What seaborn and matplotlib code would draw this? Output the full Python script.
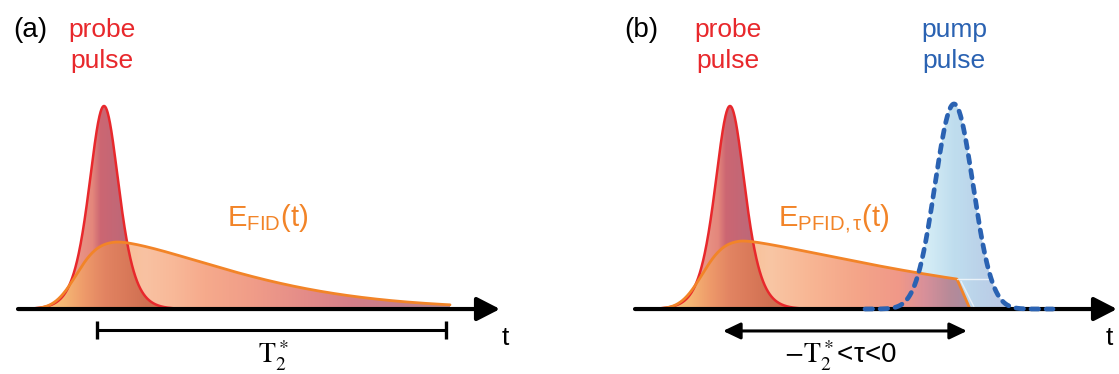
import numpy as np
import matplotlib
matplotlib.use("Agg")
import matplotlib.pyplot as plt
import seaborn as sns
from math import erf
from matplotlib.colors import LinearSegmentedColormap
from matplotlib.patches import Polygon

sns.set_theme(style="white")
plt.rcParams['font.family'] = ['Liberation Sans', 'DejaVu Sans']
plt.rcParams['mathtext.fontset'] = 'stix'

# ---------------- data (schematic pulse parameters, time in arb. units) -------------
panel_labels = ['(a)', '(b)']
panel_label_x = [-9.1, -10.6]
probe_center = [0.0, 0.0]
probe_width = [2.0, 2.0]
probe_amp = [1.0, 1.0]
probe_span = [(-6.9, 6.9), (-6.9, 6.9)]

fid_amp = [0.33, 0.335]
fid_rise_mu = [-2.8, -2.8]
fid_rise_s = [1.7, 1.7]
fid_peak = [1.0, 1.0]
fid_T = [17.0, 25.0]
fid_beta = [1.5, 1.3]
fid_span = [(-7.0, 34.6), (-7.0, 24.0)]
fid_cut = [None, 22.7]

pump_center = 22.4
pump_sigma = 1.9
pump_amp = 1.01
pump_span = (13.5, 32.3)

axis_span = [(-8.6, 39.6), (-9.5, 38.7)]
t_label_x = [39.8, 37.6]
bar_span = (-0.7, 34.2)
delay_span = (-0.7, 23.7)

fid_labels = [r'$\mathregular{E_{FID}(t)}$', r'$\mathregular{E_{PFID,τ}(t)}$']
fid_label_x = [12.27, 4.83]
bottom_labels = [r'$\mathrm{T}_2^*$', r'$-\mathrm{T}_2^*$<τ<0']
bottom_label_x = [16.9, 11.0]
panel_xlim = [(-10.4, 45.55), (-17.05, 38.9)]
ylim = (-0.320, 1.522)

RED = '#e8282c'
ORANGE = '#f28428'
BLUE = '#2a62b2'

probe_stops = [(-6.9, '#f8bca4'), (-1.2, '#e4877c'), (-0.4, '#cc6672'),
               (2.0, '#be6878'), (6.9, '#a07888')]
fid_stops = [
    [(-7.0, '#fbe08c'), (-3.0, '#f6b880'), (4.0, '#f9c2a2'), (7.0, '#f8b898'),
     (10.0, '#f6aa8c'), (15.0, '#f09c88'), (20.0, '#e48c88'), (25.0, '#d47e88'),
     (30.0, '#c4808c'), (34.6, '#b48a94')],
    [(-7.0, '#fbe08c'), (-3.0, '#f6b880'), (4.0, '#f9c6a4'), (8.0, '#f8b694'),
     (13.0, '#f4a488'), (17.0, '#f09888'), (19.5, '#d8909a'), (22.0, '#b88a98'),
     (24.0, '#a88ca0')]]
overlap_stops = [(-7.0, '#f9d47e'), (-4.0, '#f5b674'), (-2.0, '#ee9a6a'),
                 (0.0, '#e28462'), (2.0, '#da7a5a'), (4.0, '#d07052'), (6.9, '#c86a4c')]
pump_stops = [(16.0, '#e4f5fb'), (20.0, '#d0eaf5'), (22.4, '#bcdcee'),
              (25.0, '#b8d0e8'), (28.5, '#b8c4e2')]


def sech2(t, c, w, a):
    return a / np.cosh((t - c) / w) ** 2


def fid_curve(t, i):
    rise = np.array([0.5 * (1 + erf((x - fid_rise_mu[i]) / (np.sqrt(2) * fid_rise_s[i]))) for x in t])
    dt = np.clip(t - fid_peak[i], 0, None)
    dec = np.exp(-(dt / fid_T[i]) ** fid_beta[i])
    y = rise * dec
    if fid_cut[i] is not None:
        tc = fid_cut[i]
        ramp = np.clip(1 - (t - tc) / (fid_span[i][1] - tc), 0, 1)
        yc = np.interp(tc, t, y)
        y = np.where(t > tc, yc * ramp, y)
    y = y / y.max() * fid_amp[i]
    return y


def gradient_fill(ax, t, y, stops, zorder, alpha=1.0):
    t0, t1 = stops[0][0], stops[-1][0]
    pos = [(s - t0) / (t1 - t0) for s, _ in stops]
    cmap = LinearSegmentedColormap.from_list('g', list(zip(pos, [c for _, c in stops])))
    verts = [(t[0], 0)] + list(zip(t, y)) + [(t[-1], 0)]
    patch = Polygon(verts, closed=True, facecolor='none', edgecolor='none')
    ax.add_patch(patch)
    img = np.linspace(0, 1, 600)[None, :]
    im = ax.imshow(img, extent=[t0, t1, 0, 1.1], origin='lower', aspect='auto',
                   cmap=cmap, zorder=zorder, alpha=alpha, interpolation='bilinear')
    im.set_clip_path(patch)


fig = plt.figure(figsize=(11.19, 3.74), dpi=100)
axes = [fig.add_axes([0, 0, 0.5, 1]), fig.add_axes([0.5, 0, 0.5, 1])]

for i, ax in enumerate(axes):
    tp = np.linspace(*probe_span[i], 500)
    yp = sech2(tp, probe_center[i], probe_width[i], probe_amp[i])
    tf = np.linspace(*fid_span[i], 900)
    yf = fid_curve(tf, i)
    yp_on_f = sech2(tf, probe_center[i], probe_width[i], probe_amp[i])
    yo = np.minimum(yf, yp_on_f)

    if i == 1:
        tq = np.linspace(*pump_span, 600)
        yq = pump_amp * np.exp(-0.5 * ((tq - pump_center) / pump_sigma) ** 2)
        gradient_fill(ax, tq, yq, pump_stops, zorder=1, alpha=0.95)

    gradient_fill(ax, tp, yp, probe_stops, zorder=2)
    gradient_fill(ax, tf, yf, fid_stops[i], zorder=3)
    mask = tf <= probe_span[i][1]
    gradient_fill(ax, tf[mask], yo[mask], overlap_stops, zorder=4)

    sns.lineplot(x=tp, y=yp, ax=ax, color=RED, lw=1.8, sort=False, estimator=None, zorder=5)
    sns.lineplot(x=tf, y=yf, ax=ax, color=ORANGE, lw=2.0, sort=False, estimator=None, zorder=6)

    if i == 1:
        tc = fid_cut[1]
        hc = np.interp(tc, tf, yf)
        ax.plot([tc, tc + 3.1], [hc, hc], color='white', lw=1.0, alpha=0.7, zorder=6)
        ax.plot([tc + 0.4, fid_span[1][1] + 0.4], [hc - 0.01, 0.01], color='white',
                lw=1.0, alpha=0.6, zorder=6)
        sns.lineplot(x=tq, y=yq, ax=ax, color=BLUE, lw=3.4, sort=False, estimator=None, zorder=9)
        ln = ax.lines[-1]
        ln.set_linestyle((0, (1.6, 1.6)))
        ln.set_dash_capstyle('round')

    # time axis
    ax.annotate('', xy=(axis_span[i][1], 0), xytext=(axis_span[i][0], 0),
                arrowprops=dict(arrowstyle='-|>,head_length=1.4,head_width=0.72',
                                mutation_scale=10, lw=3.0, color='black',
                                shrinkA=0, shrinkB=0),
                annotation_clip=False, zorder=8)
    ax.text(t_label_x[i], -0.177, 't', fontsize=19, color='black',
            ha='left', va='baseline')

    # labels
    ax.text(panel_label_x[i], 1.34, panel_labels[i],
            fontsize=20, color='black', ha='left', va='baseline')
    ax.text(probe_center[i] - 0.2, 1.34, 'probe', fontsize=19, color=RED, ha='center', va='baseline')
    ax.text(probe_center[i] - 0.2, 1.187, 'pulse', fontsize=19, color=RED, ha='center', va='baseline')
    ax.text(fid_label_x[i], 0.409, fid_labels[i], fontsize=21, color=ORANGE,
            ha='left', va='baseline')
    ax.text(bottom_label_x[i], -0.272, bottom_labels[i], fontsize=20, color='black',
            ha='center', va='baseline')

    if i == 0:
        ax.hlines(-0.103, *bar_span, color='black', lw=2.2, zorder=8)
        ax.vlines(list(bar_span), -0.147, -0.059, color='black', lw=2.4, zorder=8)
    else:
        ax.annotate('', xy=(delay_span[1], -0.108), xytext=(delay_span[0], -0.108),
                    arrowprops=dict(arrowstyle='<|-|>,head_length=1.05,head_width=0.5',
                                    mutation_scale=10, lw=2.2, color='black',
                                    shrinkA=0, shrinkB=0),
                    annotation_clip=False, zorder=8)
        ax.text(pump_center, 1.34, 'pump', fontsize=19, color=BLUE, ha='center', va='baseline')
        ax.text(pump_center, 1.187, 'pulse', fontsize=19, color=BLUE, ha='center', va='baseline')

    ax.set_xlim(*panel_xlim[i])
    ax.set_ylim(*ylim)
    ax.axis('off')

fig.savefig('out.png', dpi=100)
